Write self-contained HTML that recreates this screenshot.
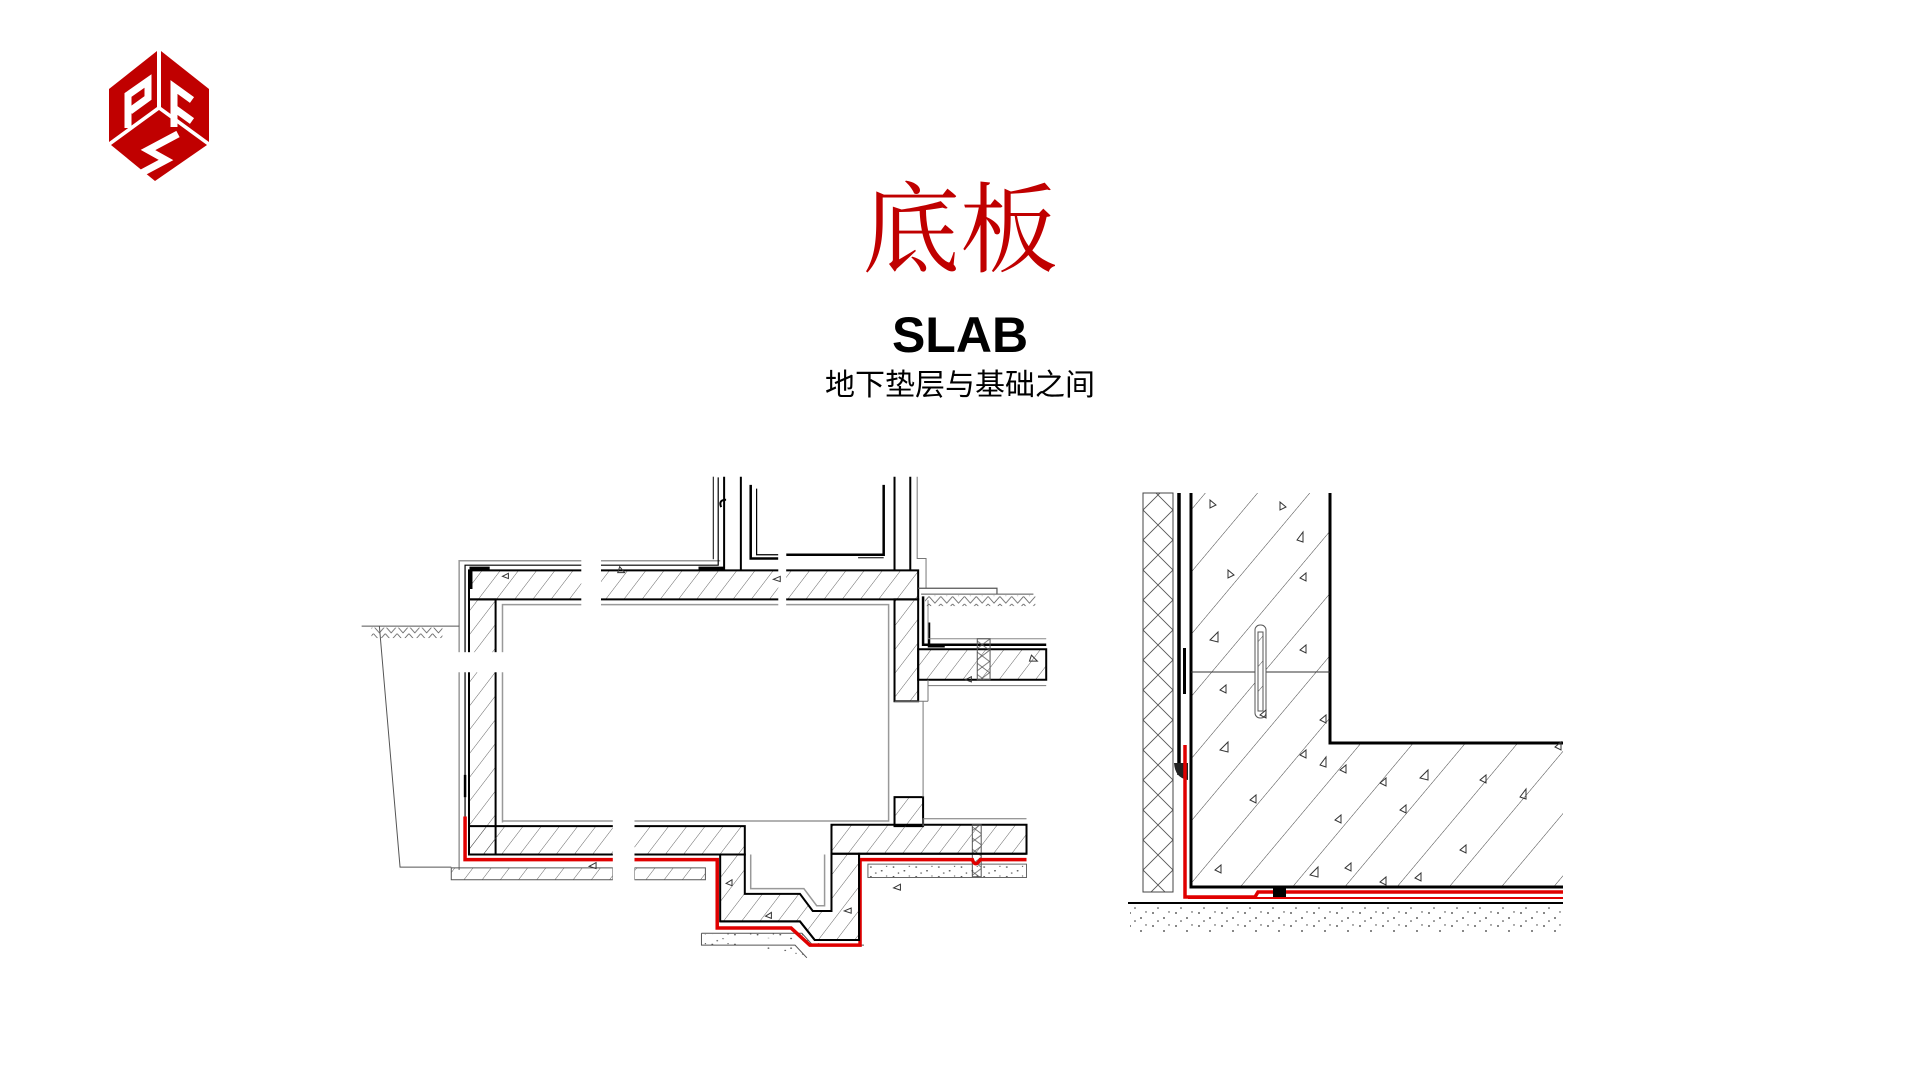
<!DOCTYPE html>
<html><head><meta charset="utf-8"><style>
html,body{margin:0;padding:0;background:#fff;}
body{width:1920px;height:1080px;position:relative;overflow:hidden;}
.t{position:absolute;left:0;width:1920px;text-align:center;}
#t1{top:172px;font-family:"Liberation Serif","Noto Serif CJK SC",serif;font-size:98px;color:#c00000;line-height:120px;}
#t2{top:303px;font-family:"Liberation Sans",sans-serif;font-weight:bold;font-size:50px;line-height:64px;color:#000;}
#t3{top:366px;font-family:"Liberation Sans","Noto Sans CJK SC",sans-serif;font-size:30px;line-height:40px;color:#000;}
.L *{vector-effect:non-scaling-stroke;}
</style></head><body>
<svg width="1920" height="1080" style="position:absolute;left:0;top:0">
<defs>
<pattern id="h" width="16" height="16" patternUnits="userSpaceOnUse" patternTransform="rotate(40)">
<line x1="0" y1="0" x2="0" y2="16" stroke="#444" stroke-width="0.9"/></pattern>
<pattern id="hL" width="16" height="16" patternUnits="userSpaceOnUse" patternTransform="rotate(30)">
<line x1="0" y1="0" x2="0" y2="16" stroke="#444" stroke-width="0.9"/></pattern>
<pattern id="hb" width="40" height="40" patternUnits="userSpaceOnUse" patternTransform="rotate(40)">
<line x1="0" y1="0" x2="0" y2="40" stroke="#444" stroke-width="1"/></pattern>
<pattern id="x" width="15" height="15" patternUnits="userSpaceOnUse">
<path d="M0 0L15 15M15 0L0 15" stroke="#555" stroke-width="0.9"/></pattern>
<pattern id="x2" width="30" height="30" patternUnits="userSpaceOnUse" patternTransform="translate(1143,0)">
<path d="M0 0L30 30M30 0L0 30" stroke="#555" stroke-width="0.9"/></pattern>
<pattern id="d" width="23" height="13" patternUnits="userSpaceOnUse">
<circle cx="3" cy="3" r="0.9" fill="#333"/><circle cx="14" cy="8" r="0.9" fill="#333"/><circle cx="19" cy="2" r="0.7" fill="#333"/><circle cx="8" cy="11" r="0.8" fill="#333"/></pattern>
<pattern id="g" width="24" height="10" patternUnits="userSpaceOnUse">
<path d="M0 0L6 9L12 0M12 0L18 9L24 0" stroke="#555" fill="none" stroke-width="0.9"/></pattern>
</defs>

<g fill="#c00000">
<polygon points="157,51 109,89 109,142 157,107"/>
<polygon points="161,51 209,89 209,142 161,107"/>
<polygon points="111,145 159,110 207,145 155,181"/>
</g>
<g stroke="#fff" stroke-width="7" fill="none">
<path d="M128 128 L128 95 L148 81 L148 98 L130 111"/>
<path d="M192 100 L174 87 L174 127 M174 108 L192 121"/>
<path d="M178 134 L148 150 L166 160 L136 176"/>
</g>

<g class="L" transform="translate(469,470) scale(0.985,0.7436) translate(-469,-470)">
<g stroke="#000" stroke-width="2">
<g fill="url(#hL)">
<rect x="469" y="605" width="456" height="39"/>
<rect x="469" y="644" width="27" height="343"/>
<rect x="901" y="644" width="24" height="137"/>
<rect x="925" y="711" width="130" height="41"/>
<rect x="469" y="949" width="280" height="38"/>
<rect x="901" y="910" width="29" height="39"/>
<rect x="837" y="947" width="198" height="39"/>
<polygon points="724,987 749,987 749,1040 805,1040 818,1063 837,1063 837,986 865,986 865,1102 820,1102 805,1077 724,1077"/>
</g>
</g>
<g stroke="#999" stroke-width="1.5" fill="none">
<path d="M503 944 L503 651 L895 651 L895 942 L503 942"/>
<path d="M755 987 L755 1033 L809 1033 L822 1056 L830 1056 L830 987"/>
<path d="M459 1008 L459 592 L724 592"/>
</g>
<g fill="none" stroke="#000">
<path d="M465 936 L465 598 L722 598 L722 480" stroke-width="1.2"/>
<path d="M471 630 L471 602 L490 602" stroke-width="3"/>
<path d="M702 602 L728 602" stroke-width="3"/>
<path d="M728 479 L728 605 M745 479 L745 605" stroke-width="2"/>
<path d="M717 479 L717 590" stroke-width="1"/>
<path d="M725 520 Q722 510 730 510" stroke-width="2"/>
<path d="M755 490 L755 589 L783 589" stroke-width="2.5"/>
<path d="M761 495 L761 584 L783 584" stroke-width="1.2"/>
<path d="M791 584 L890 584 L890 490" stroke-width="2.5"/>
<path d="M864 588 L890 588" stroke-width="1"/>
<path d="M901 479 L901 605 M917 479 L917 605" stroke-width="2"/>
<path d="M924 479 L924 589 L933 589 L933 629" stroke="#777" stroke-width="1"/>
<path d="M925 629 L1005 629 L1005 637" stroke="#555" stroke-width="1.2" fill="#fff"/>
<path d="M928 637 L1042 637" stroke="#555" stroke-width="1"/>
<path d="M930 640 L930 705 L1055 705 M936 675 L936 707 L952 707" stroke-width="2.5"/>
<path d="M935 645 L935 697 L1055 697" stroke="#888" stroke-width="1"/>
<path d="M935 752 L935 781 M935 760 L1055 760" stroke="#777" stroke-width="1"/>
<path d="M930 781 L930 910 M901 781 L935 781" stroke="#777" stroke-width="1"/>
<path d="M930 949 L930 939 L1035 939" stroke="#777" stroke-width="1"/>
<path d="M360 680 L459 680 M378 680 L399 1004 L451 1004" stroke="#555" stroke-width="1"/>
<path d="M465 880 L465 910" stroke-width="2.5"/>
</g>
<rect x="370" y="682" width="72" height="14" fill="url(#g)"/>
<rect x="932" y="639" width="112" height="14" fill="url(#g)"/>
<rect x="985" y="697" width="13" height="55" fill="url(#x)" stroke="#555"/>
<rect x="980" y="947" width="9" height="70" fill="url(#x)" stroke="#555"/>
<rect x="451" y="1005" width="164" height="16" fill="url(#hL)" stroke="#555"/>
<rect x="637" y="1005" width="72" height="16" fill="url(#hL)" stroke="#555"/>
<rect x="874" y="1000" width="161" height="18" fill="url(#d)" stroke="#666"/>
<path d="M705 1093 L807 1093 L818 1109 L870 1109 M705 1093 L705 1109 L800 1109 L812 1126" fill="url(#d)" stroke="#555"/>
<path d="M465 936 L465 994 L721 994 L721 1086 L796 1086 L815 1109 L866 1109 L866 994 L980 994 Q983 1005 988 994 L1035 994" fill="none" stroke="#e00000" stroke-width="3.5"/>
<path d="M469 987 L724 987 M724 1077 L805 1077 L820 1102 L865 1102 L865 986 L1035 986" fill="none" stroke="#000" stroke-width="2"/>
<rect x="583" y="560" width="20" height="110" fill="#fff"/>
<rect x="615" y="925" width="22" height="110" fill="#fff"/>
<rect x="440" y="715" width="70" height="27" fill="#fff"/>
<rect x="783" y="560" width="8" height="110" fill="#fff"/>
<g fill="none" stroke="#333" stroke-width="1">
<path d="M503 613l6 -4l0 7z M622 600l5 8l-7 0z M778 617l7 -4l0 7z M591 1003l7-5l0 8z M730 1026l6-5l0 8z M900 1032l7-5l0 8z M770 1070l6-5l0 8z M850 1063l7-4l0 7z M1040 719l6 8l-8 0z M973 752l6-4l0 7z"/>
</g>
</g>

<polygon points="1191,493 1330,493 1330,743 1563,743 1563,887 1191,887" fill="url(#hb)"/>
<path d="M1191 493 L1191 887 L1563 887 M1330 493 L1330 743 L1563 743" fill="none" stroke="#000" stroke-width="3"/>
<rect x="1143" y="493" width="30" height="399" fill="url(#x2)" stroke="#444" stroke-width="1"/>
<path d="M1179 493 L1179 775" stroke="#000" stroke-width="3.5"/>
<rect x="1183" y="648" width="3" height="46" fill="#000"/>
<path d="M1191 672 L1330 672" stroke="#333" stroke-width="1"/>
<rect x="1255" y="625" width="11" height="93" rx="5" fill="#fff" stroke="#555"/>
<rect x="1258" y="632" width="5" height="79" fill="url(#h)" stroke="#555"/>
<path d="M1174 763 L1188 763 L1188 780 Q1175 778 1174 763 Z" fill="#222"/>
<path d="M1185 745 L1185 897 L1255 897 L1258 892 L1563 892" fill="none" stroke="#e00000" stroke-width="3.5"/>
<path d="M1188 898 L1563 898" stroke="#e00000" stroke-width="2"/>
<path d="M1273 888 L1286 888 L1286 897 L1273 897 Z" fill="#000"/>
<path d="M1128 903 L1563 903" stroke="#000" stroke-width="2"/>
<rect x="1130" y="906" width="433" height="26" fill="url(#d)"/>
<g fill="none" stroke="#333" stroke-width="1">
<path d="M1210 500l6 5l-6 3z M1280 502l6 5l-6 3z M1297 540l6 -8l0 10z M1228 570l6 5l-6 3z M1300 578l6 -5l0 8z M1210 640l8 -8l0 10z M1300 650l6 -5l0 8z M1220 690l6-5l0 8z M1260 715l6-5l0 8z M1320 720l6-5l0 8z M1220 750l8 -8l0 10z M1300 755l6-5l0 8z M1320 765l6-8l0 10z M1340 770l6-5l0 8z M1380 783l6-5l0 8z M1420 778l8 -8l0 10z M1480 780l6-5l0 8z M1520 797l6-8l0 10z M1250 800l6-5l0 8z M1335 820l6-5l0 8z M1400 810l6-5l0 8z M1460 850l6-5l0 8z M1310 875l8 -8l0 10z M1345 868l6-5l0 8z M1380 882l6-5l0 8z M1415 878l6-5l0 8z M1215 870l6-5l0 8z M1555 747l6-5l0 8z"/>
</g>
</svg>
<div class="t" id="t1">底板</div>
<div class="t" id="t2">SLAB</div>
<div class="t" id="t3">地下垫层与基础之间</div>
</body></html>
